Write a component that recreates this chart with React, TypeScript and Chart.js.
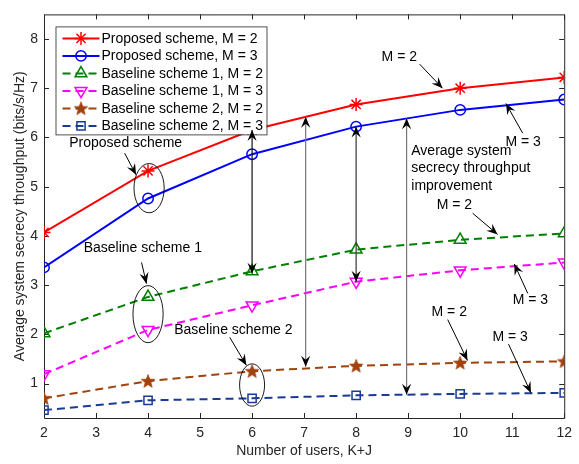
import React, { useEffect, useRef } from "react";
import { Chart, registerables } from "chart.js";
Chart.register(...registerables);

// ---- data ----
const xValues = [2, 4, 6, 8, 10, 12];
const proposedM2 = [4.07, 5.32, 6.15, 6.67, 7.0, 7.22];
const proposedM3 = [3.36, 4.76, 5.66, 6.22, 6.56, 6.77];
const baseline1M2 = [2.02, 2.76, 3.28, 3.72, 3.92, 4.05];
const baseline1M3 = [1.19, 2.09, 2.59, 3.07, 3.3, 3.46];
const baseline2M2 = [0.7, 1.05, 1.25, 1.36, 1.42, 1.45];
const baseline2M3 = [0.46, 0.66, 0.7, 0.76, 0.79, 0.81];
const xTicks = [2, 3, 4, 5, 6, 7, 8, 9, 10, 11, 12];
const yTicks = [1, 2, 3, 4, 5, 6, 7, 8];
const seriesLabels = [
  "Proposed scheme, M = 2",
  "Proposed scheme, M = 3",
  "Baseline scheme 1, M = 2",
  "Baseline scheme 1, M = 3",
  "Baseline scheme 2, M = 2",
  "Baseline scheme 2, M = 3",
];
const xTitle = "Number of users, K+J";
const yTitle = "Average system secrecy throughput (bits/s/Hz)";

// annotations (data coordinates)
const textNotes = [
  { t: "Proposed scheme", x: 3.57, y: 5.89, a: "center" },
  { t: "Baseline scheme 1", x: 3.9, y: 3.76, a: "center" },
  { t: "Baseline scheme 2", x: 5.64, y: 2.09, a: "center" },
  { t: "M = 2", x: 8.83, y: 7.63, a: "center" },
  { t: "M = 3", x: 11.21, y: 5.91, a: "center" },
  { t: "Average system", x: 9.06, y: 5.72, a: "left" },
  { t: "secrecy throughput", x: 9.06, y: 5.37, a: "left" },
  { t: "improvement", x: 9.06, y: 5.01, a: "left" },
  { t: "M = 2", x: 9.89, y: 4.63, a: "center" },
  { t: "M = 3", x: 11.35, y: 2.7, a: "center" },
  { t: "M = 2", x: 9.79, y: 2.45, a: "center" },
  { t: "M = 3", x: 10.96, y: 1.95, a: "center" },
];
const singleArrows = [
  [3.55, 5.68, 3.77, 5.24],
  [3.875, 3.46, 3.97, 3.03],
  [5.57, 1.94, 5.89, 1.37],
  [9.22, 7.49, 9.66, 7.0],
  [11.2, 6.09, 10.88, 6.69],
  [10.24, 4.46, 10.72, 4.03],
  [11.3, 2.83, 11.04, 3.43],
  [9.76, 2.3, 10.14, 1.47],
  [10.93, 1.8, 11.36, 0.81],
];
const doubleArrows = [
  { x: 6, y1: 6.15, y2: 3.23, c: "#111" },
  { x: 7.03, y1: 6.42, y2: 1.34, c: "#777" },
  { x: 8, y1: 6.22, y2: 3.07, c: "#333" },
  { x: 8.97, y1: 6.39, y2: 0.77, c: "#777" },
];
const ellipses = [
  { x: 4.02, y: 4.97, rx: 0.29, ry: 0.5 },
  { x: 4.0, y: 2.41, rx: 0.29, ry: 0.58 },
  { x: 6.0, y: 0.97, rx: 0.24, ry: 0.43 },
];

const FONT = "'Liberation Sans', Arial, sans-serif";
const AXIS_COLOR = "#262626";

function makePentagram(color: string, r: number) {
  const c = document.createElement("canvas");
  const s = Math.ceil(r * 2 + 2);
  c.width = s;
  c.height = s;
  const g = c.getContext("2d")!;
  g.beginPath();
  for (let i = 0; i < 10; i++) {
    const ang = -Math.PI / 2 + (i * Math.PI) / 5;
    const rr = i % 2 === 0 ? r : r * 0.42;
    g.lineTo(s / 2 + rr * Math.cos(ang), s / 2 + 0.5 + rr * Math.sin(ang));
  }
  g.closePath();
  g.fillStyle = color;
  g.fill();
  g.strokeStyle = color;
  g.lineWidth = 0.8;
  g.stroke();
  return c;
}

function drawMarker(ctx: CanvasRenderingContext2D, style: any, x: number, y: number, r: number, rot: number, color: string) {
  ctx.save();
  ctx.strokeStyle = color;
  ctx.lineWidth = 1.5;
  ctx.setLineDash([]);
  ctx.translate(x, y);
  ctx.rotate((rot * Math.PI) / 180);
  ctx.beginPath();
  if (style === "star") {
    for (let i = 0; i < 4; i++) {
      const a = (i * Math.PI) / 4;
      ctx.moveTo(-r * Math.cos(a), -r * Math.sin(a));
      ctx.lineTo(r * Math.cos(a), r * Math.sin(a));
    }
    ctx.stroke();
  } else if (style === "circle") {
    ctx.arc(0, 0, r, 0, Math.PI * 2);
    ctx.stroke();
  } else if (style === "triangle") {
    for (let i = 0; i < 3; i++) {
      const a = (i * 2 * Math.PI) / 3;
      ctx.lineTo(Math.sin(a) * r, -Math.cos(a) * r);
    }
    ctx.closePath();
    ctx.stroke();
  } else if (style === "rect") {
    const s = r * Math.SQRT1_2;
    ctx.rect(-s, -s, 2 * s, 2 * s);
    ctx.stroke();
  } else if (style && style.width) {
    ctx.drawImage(style, -style.width / 2, -style.height / 2);
  }
  ctx.restore();
}

function arrowHead(ctx: CanvasRenderingContext2D, x1: number, y1: number, x2: number, y2: number, color: string) {
  const ang = Math.atan2(y2 - y1, x2 - x1);
  ctx.save();
  ctx.translate(x2, y2);
  ctx.rotate(ang);
  ctx.beginPath();
  ctx.moveTo(0, 0);
  ctx.lineTo(-11, -4.6);
  ctx.lineTo(-7, 0);
  ctx.lineTo(-11, 4.6);
  ctx.closePath();
  ctx.fillStyle = color;
  ctx.fill();
  ctx.restore();
}

const framePlugin = {
  id: "frame",
  beforeDatasetsDraw(chart: any) {
    const { ctx, chartArea: a, scales } = chart;
    const xs = scales.x, ys = scales.y;
    ctx.save();
    ctx.fillStyle = "#fff";
    ctx.strokeStyle = AXIS_COLOR;
    ctx.lineWidth = 1;
    ctx.beginPath();
    ctx.rect(a.left + 0.5, a.top + 0.5, a.right - a.left, a.bottom - a.top);
    ctx.stroke();
    ctx.beginPath();
    const tl = 5;
    xTicks.forEach((v) => {
      const px = Math.round(xs.getPixelForValue(v)) + 0.5;
      ctx.moveTo(px, a.bottom);
      ctx.lineTo(px, a.bottom - tl);
      ctx.moveTo(px, a.top);
      ctx.lineTo(px, a.top + tl);
    });
    yTicks.forEach((v) => {
      const py = Math.round(ys.getPixelForValue(v)) + 0.5;
      ctx.moveTo(a.left, py);
      ctx.lineTo(a.left + tl, py);
      ctx.moveTo(a.right, py);
      ctx.lineTo(a.right - tl, py);
    });
    ctx.stroke();
    ctx.restore();
  },
  afterDraw(chart: any) {
    const { ctx, chartArea: a, scales } = chart;
    const X = (v: number) => scales.x.getPixelForValue(v);
    const Y = (v: number) => scales.y.getPixelForValue(v);
    ctx.save();
    // legend
    const lx = a.left + 11.5, ly = a.top + 12, lw = 211, lh = 108;
    ctx.fillStyle = "#fff";
    ctx.fillRect(lx, ly, lw, lh);
    ctx.strokeStyle = AXIS_COLOR;
    ctx.lineWidth = 0.8;
    ctx.strokeRect(lx + 0.5, ly + 0.5, lw, lh);
    ctx.font = `14px ${FONT}`;
    ctx.textBaseline = "middle";
    ctx.textAlign = "left";
    chart.data.datasets.forEach((ds: any, i: number) => {
      const ry = ly + 12 + i * 17.5;
      ctx.strokeStyle = ds.borderColor;
      ctx.lineWidth = 2;
      ctx.setLineDash(ds.borderDash || []);
      ctx.beginPath();
      ctx.moveTo(lx + 7, ry);
      ctx.lineTo(lx + 44, ry);
      ctx.stroke();
      ctx.setLineDash([]);
      drawMarker(ctx, ds.pointStyle, lx + 25.5, ry, ds.pointRadius, ds.pointRotation || 0, ds.borderColor);
      ctx.fillStyle = "#000";
      ctx.fillText(ds.label, lx + 46, ry + 0.5);
    });
    // ellipses
    ctx.strokeStyle = "#000";
    ctx.lineWidth = 0.9;
    ellipses.forEach((e) => {
      const cx = X(e.x), cy = Y(e.y);
      const rx = Math.abs(X(e.x + e.rx) - cx), ry = Math.abs(Y(e.y + e.ry) - cy);
      ctx.beginPath();
      ctx.ellipse(cx, cy, rx, ry, 0, 0, Math.PI * 2);
      ctx.stroke();
    });
    // single arrows
    singleArrows.forEach(([x1, y1, x2, y2]) => {
      const p1x = X(x1), p1y = Y(y1), p2x = X(x2), p2y = Y(y2);
      ctx.strokeStyle = "#000";
      ctx.lineWidth = 1;
      ctx.beginPath();
      ctx.moveTo(p1x, p1y);
      ctx.lineTo(p2x, p2y);
      ctx.stroke();
      arrowHead(ctx, p1x, p1y, p2x, p2y, "#000");
    });
    // double arrows
    doubleArrows.forEach((d) => {
      const px = X(d.x), p1 = Y(d.y1), p2 = Y(d.y2);
      ctx.strokeStyle = d.c;
      ctx.lineWidth = 1.2;
      ctx.beginPath();
      ctx.moveTo(px, p1);
      ctx.lineTo(px, p2);
      ctx.stroke();
      arrowHead(ctx, px, p2, px, p1, "#000");
      arrowHead(ctx, px, p1, px, p2, "#000");
    });
    // texts
    ctx.fillStyle = "#000";
    ctx.font = `14px ${FONT}`;
    ctx.textBaseline = "middle";
    textNotes.forEach((n) => {
      ctx.textAlign = n.a as CanvasTextAlign;
      ctx.fillText(n.t, X(n.x), Y(n.y));
    });
    ctx.restore();
  },
};

export default function App() {
  const ref = useRef<HTMLCanvasElement>(null);
  useEffect(() => {
    const star = makePentagram("#A0420F", 7);
    const mk = (label: string, vals: number[], color: string, style: any, dashed: boolean, r: number, rot = 0) => ({
      label,
      data: xValues.map((x, i) => ({ x, y: vals[i] })),
      borderColor: color,
      backgroundColor: "rgba(0,0,0,0)",
      pointBorderColor: color,
      pointBackgroundColor: "rgba(0,0,0,0)",
      borderWidth: 2,
      borderDash: dashed ? [8, 5] : [],
      pointStyle: style,
      pointRadius: r,
      pointRotation: rot,
      pointBorderWidth: 1.5,
      tension: 0,
      fill: false,
    });
    const chart = new Chart(ref.current!, {
      type: "line",
      data: {
        datasets: [
          mk(seriesLabels[0], proposedM2, "#FF0000", "star", false, 6.5),
          mk(seriesLabels[1], proposedM3, "#0000FF", "circle", false, 5.2),
          mk(seriesLabels[2], baseline1M2, "#008000", "triangle", true, 6.8),
          mk(seriesLabels[3], baseline1M3, "#FF00FF", "triangle", true, 6.8, 180),
          mk(seriesLabels[4], baseline2M2, "#A0420F", star, true, 7),
          mk(seriesLabels[5], baseline2M3, "#1B3A96", "rect", true, 5.8),
        ] as any,
      },
      options: {
        animation: false,
        responsive: false,
        devicePixelRatio: 1,
        layout: { padding: { left: 0, right: 14, top: 6.5, bottom: 0 } },
        plugins: { legend: { display: false }, tooltip: { enabled: false } },
        scales: {
          x: {
            type: "linear",
            min: 2,
            max: 12,
            afterBuildTicks: (s: any) => {
              s.ticks = xTicks.map((v) => ({ value: v }));
            },
            afterFit: (s: any) => {
              s.height = 46;
            },
            grid: { display: false, drawTicks: false },
            border: { display: false },
            ticks: { color: AXIS_COLOR, font: { family: FONT, size: 14 }, padding: 7, maxRotation: 0, autoSkip: false },
            title: { display: true, text: xTitle, color: AXIS_COLOR, font: { family: FONT, size: 14 }, padding: { top: 0, bottom: 4 } },
          },
          y: {
            type: "linear",
            min: 0.3,
            max: 8.5,
            afterBuildTicks: (s: any) => {
              s.ticks = yTicks.map((v) => ({ value: v }));
            },
            afterFit: (s: any) => {
              s.width = 44;
            },
            grid: { display: false, drawTicks: false },
            border: { display: false },
            ticks: { color: AXIS_COLOR, font: { family: FONT, size: 14 }, padding: 6 },
            title: { display: true, text: yTitle, color: AXIS_COLOR, font: { family: FONT, size: 14 }, padding: { top: 12, bottom: 0 } },
          },
        },
      } as any,
      plugins: [framePlugin],
    });
    return () => chart.destroy();
  }, []);
  return (
    <div style={{ position: "fixed", left: 0, top: 0, width: 579, height: 464, background: "#fff" }}>
      <canvas ref={ref} width={579} height={464} style={{ width: 579, height: 464, display: "block" }} />
    </div>
  );
}
